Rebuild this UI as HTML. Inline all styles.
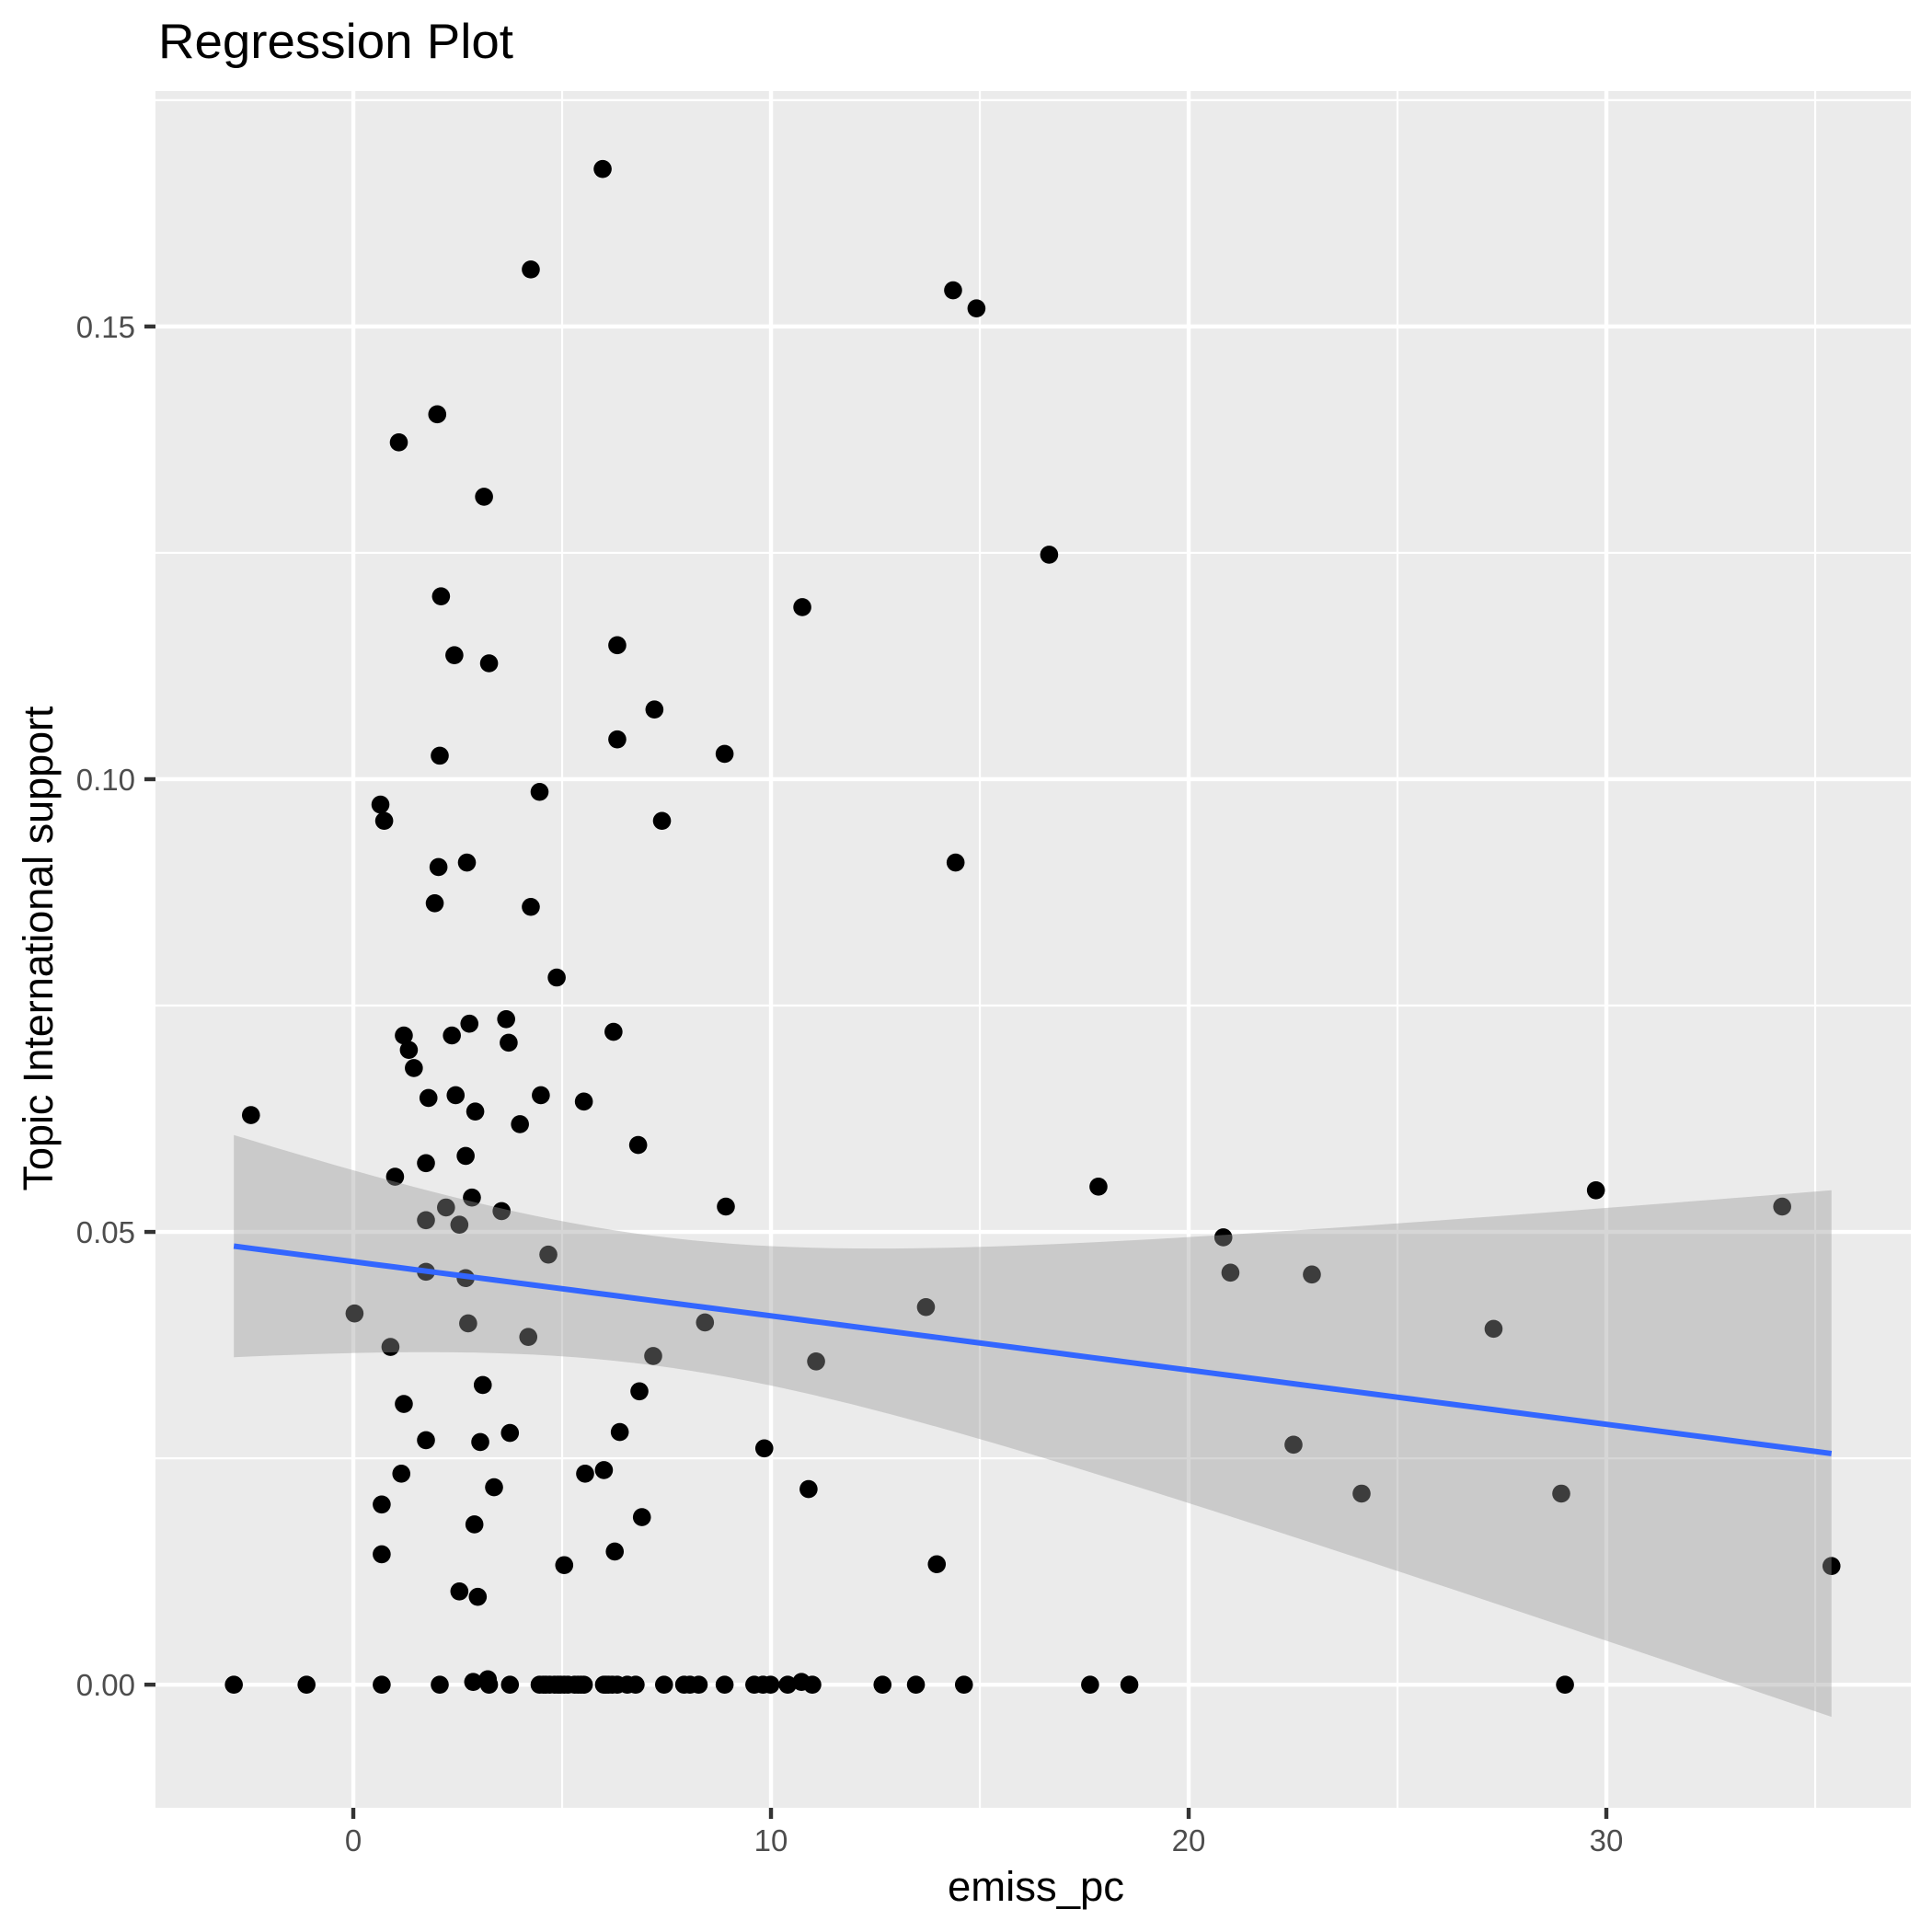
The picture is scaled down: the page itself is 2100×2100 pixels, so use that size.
<!DOCTYPE html>
<html><head><meta charset="utf-8"><style>
html,body{margin:0;padding:0;background:#fff;}
svg{display:block;font-family:"Liberation Sans",Arial,sans-serif;}
</style></head><body>
<svg id="chart" width="2100" height="2100" viewBox="0 0 2100 2100">
<text x="172" y="63" font-size="53" textLength="386" lengthAdjust="spacingAndGlyphs" fill="#000">Regression Plot</text>
<rect x="169" y="99" width="1908" height="1866" fill="#ebebeb"/>
<g id="grid"></g>
<g id="points"></g>
<g id="smooth"></g>
<g id="axes"></g>
<text x="1126" y="2066" font-size="45" text-anchor="middle" textLength="192" lengthAdjust="spacingAndGlyphs" fill="#000">emiss_pc</text>
<text transform="translate(57,1031) rotate(-90)" font-size="45" text-anchor="middle" textLength="527" lengthAdjust="spacingAndGlyphs" fill="#000">Topic International support</text>
</svg>
<script>
const xTicks=[0,10,20,30];
const xTickLabels=["0","10","20","30"];
const yTicks=[0,0.05,0.10,0.15];
const yTickLabels=["0.00","0.05","0.10","0.15"];
const ptX=[5.97,4.25,14.36,14.92,2.01,1.09,3.13,16.66,2.10,10.75,6.32,2.42,3.25,7.21,6.32,2.07,8.89,4.46,0.65,0.74,7.39,2.72,14.42,2.04,1.95,4.25,4.87,3.66,2.78,1.21,6.23,2.36,3.72,1.33,1.45,1.80,2.45,4.49,5.52,2.92,-2.45,3.99,6.82,2.69,1.74,1.00,2.84,17.84,29.75,8.92,2.22,3.55,34.21,1.74,2.54,20.83,4.67,1.74,2.69,21.0,22.95,13.71,0.03,2.75,8.42,27.3,4.19,0.89,7.18,11.08,3.10,6.85,1.21,3.75,6.38,1.74,3.04,9.84,22.51,1.15,5.55,6.0,3.37,10.90,24.14,28.92,0.68,6.91,2.90,0.68,6.26,5.05,13.97,35.39,2.54,2.98,
-2.86,-1.12,0.68,2.07,2.87,3.22,3.25,3.75,4.46,4.61,4.82,4.96,5.14,5.38,5.52,6.0,6.11,6.32,6.56,6.76,7.44,7.92,8.06,8.27,8.89,9.6,9.81,9.99,10.4,10.73,10.99,12.67,13.47,14.62,17.64,18.58,29.01,
4.55,4.7,4.9,5.05,5.3,5.45,6.05,6.2];
const ptY=[0.1674,0.1563,0.154,0.152,0.1403,0.1372,0.1312,0.1248,0.1202,0.119,0.1148,0.1137,0.1128,0.1077,0.1044,0.1026,0.1028,0.0986,0.0972,0.0954,0.0954,0.0908,0.0908,0.0903,0.0863,0.0859,0.0781,0.0735,0.073,0.0717,0.0721,0.0717,0.0709,0.0701,0.0681,0.0648,0.0651,0.0651,0.0644,0.0633,0.0629,0.0619,0.0596,0.0584,0.0576,0.0561,0.0538,0.055,0.0546,0.0528,0.0527,0.0523,0.0528,0.0513,0.0508,0.0494,0.0475,0.0456,0.0449,0.0455,0.0453,0.0417,0.041,0.0399,0.04,0.0393,0.0384,0.0373,0.0363,0.0357,0.0331,0.0324,0.031,0.0278,0.0279,0.027,0.0268,0.0261,0.0265,0.0233,0.0233,0.0237,0.0218,0.0216,0.0211,0.0211,0.0199,0.0185,0.0177,0.0144,0.0147,0.0132,0.0133,0.0131,0.0103,0.0097,
0,0,0,0,0.0003,0.0006,0,0,0,0,0,0,0,0,0,0,0,0,0,0,0,0,0,0,0,0,0,0,0,0.0003,0,0,0,0,0,0,0,
0,0,0,0,0,0,0,0];

const NS="http://www.w3.org/2000/svg";
const X0=169,X1=2077,Y0=99,Y1=1965;
const xMin=-4.736,xMax=37.29,yMin=-0.0136,yMax=0.1760;
const sx=v=>X0+(v-xMin)/(xMax-xMin)*(X1-X0);
const sy=v=>Y1-(v-yMin)/(yMax-yMin)*(Y1-Y0);
function mk(tag,attrs,parent){const e=document.createElementNS(NS,tag);for(const k in attrs)e.setAttribute(k,attrs[k]);parent.appendChild(e);return e;}

const grid=document.getElementById('grid');
[5,15,25,35].forEach(v=>{const l=mk('line',{x1:sx(v),x2:sx(v),y1:Y0,y2:Y1,stroke:'#fff','stroke-width':2.2},grid);

});
[0.025,0.075,0.125,0.175].forEach(v=>{const l=mk('line',{x1:X0,x2:X1,y1:sy(v),y2:sy(v),stroke:'#fff','stroke-width':2.2},grid);

});
xTicks.forEach(v=>{const l=mk('line',{x1:sx(v),x2:sx(v),y1:Y0,y2:Y1,stroke:'#fff','stroke-width':4.4},grid);

});
yTicks.forEach(v=>{const l=mk('line',{x1:X0,x2:X1,y1:sy(v),y2:sy(v),stroke:'#fff','stroke-width':4.4},grid);

});

const pts=document.getElementById('points');
ptX.forEach((x,i)=>{const c=mk('circle',{cx:sx(x),cy:sy(ptY[i]),r:9.8,fill:'#000'},pts);

});

// OLS fit with 95% CI
const n=ptX.length;
const mx=ptX.reduce((a,b)=>a+b,0)/n, my=ptY.reduce((a,b)=>a+b,0)/n;
let sxx=0,sxy=0;for(let i=0;i<n;i++){sxx+=(ptX[i]-mx)**2;sxy+=(ptX[i]-mx)*(ptY[i]-my);}
const b=sxy/sxx,a=my-b*mx;
let sse=0;for(let i=0;i<n;i++){sse+=(ptY[i]-a-b*ptX[i])**2;}
const s=Math.sqrt(sse/(n-2)),t=1.98;
const lo=Math.min(...ptX),hi=Math.max(...ptX);
const up=[],dn=[],ln=[];
for(let k=0;k<=80;k++){const x=lo+(hi-lo)*k/80;const f=a+b*x;const se=s*Math.sqrt(1/n+(x-mx)**2/sxx);
up.push(sx(x)+','+sy(f+t*se));dn.unshift(sx(x)+','+sy(f-t*se));ln.push(sx(x)+','+sy(f));}
const sm=document.getElementById('smooth');
const rib=mk('polygon',{points:up.concat(dn).join(' '),fill:'#999999','fill-opacity':0.4},sm);


const fl=mk('polyline',{points:ln.join(' '),fill:'none',stroke:'#3366FF','stroke-width':6},sm);



const ax=document.getElementById('axes');
xTicks.forEach((v,i)=>{const l=mk('line',{x1:sx(v),x2:sx(v),y1:Y1,y2:Y1+12,stroke:'#333','stroke-width':4.4},ax);


const tx=mk('text',{x:sx(v),y:2012,'font-size':33,'text-anchor':'middle',fill:'#4d4d4d'},ax);tx.textContent=xTickLabels[i];

});
yTicks.forEach((v,i)=>{const l=mk('line',{x1:X0-12,x2:X0,y1:sy(v),y2:sy(v),stroke:'#333','stroke-width':4.4},ax);


const tx=mk('text',{x:X0-22,y:sy(v)+12,'font-size':33,'text-anchor':'end',fill:'#4d4d4d'},ax);tx.textContent=yTickLabels[i];

});
</script>
</body></html>
